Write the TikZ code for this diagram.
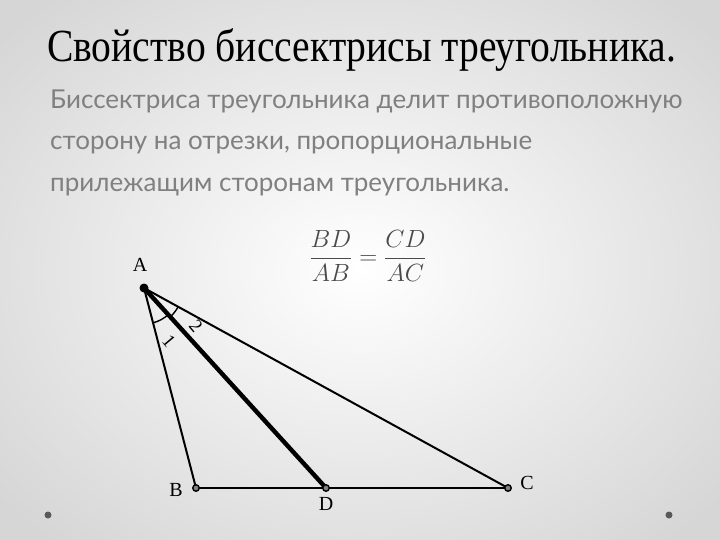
\documentclass[tikz,border=0pt]{standalone}
\usepackage{amsmath}
\usepackage{fontspec}
\setmainfont{Liberation Serif}
\newfontfamily\bodyfont{Lato}
\newfontfamily\titlefont{Liberation Serif}
\usetikzlibrary{calc}
\definecolor{bodygray}{HTML}{808080}
\definecolor{formgray}{HTML}{4A4A4A}
\definecolor{bgedge}{HTML}{D6D6D6}
\tikzset{
  side/.style={line width=2pt, black},
  bisect/.style={line width=4.4pt, black},
  vlabel/.style={font=\fontsize{20}{20}\selectfont, inner sep=0pt},
  anglabel/.style={font=\fontsize{19}{19}\selectfont, inner sep=0pt, rotate=-50},
  vdot/.style={circle, draw=black, fill=gray, line width=1.4pt, minimum size=6.5pt, inner sep=0pt},
  cornerdot/.style={circle, fill=black!65, minimum size=7pt, inner sep=0pt},
  bodyline/.style={anchor=base west, inner sep=0pt, text=bodygray, font=\bodyfont\fontsize{26}{26}\selectfont}
}
\begin{document}
\begin{tikzpicture}[x=1pt,y=-1pt]
\useasboundingbox (0,0) rectangle (720,540);
\shade[inner color=white, outer color=bgedge] (-110,-90) rectangle (830,630);
% title
\node[anchor=base west, inner sep=0pt, xscale=0.86] (title) at (47,62)
  {\titlefont\fontsize{46}{46}\selectfont Свойство биссектрисы треугольника.};
% body text
\node[bodyline] (l1) at (50,109) {Биссектриса треугольника делит противоположную};
\node[bodyline] (l2) at (50,150) {сторону на отрезки, пропорциональные};
\node[bodyline] (l3) at (50,192) {прилежащим сторонам треугольника.};
% formula
\node[text=formgray, inner sep=0pt, font=\fontsize{24}{24}\selectfont] (form) at (368,256)
  {$\dfrac{BD}{AB}=\dfrac{CD}{AC}$};
% triangle
\coordinate (A) at (144,288);
\coordinate (B) at (196,488);
\coordinate (D) at (326,488);
\coordinate (C) at (508,488);
\draw[side] (A) -- (B);
\draw[side] (A) -- (C);
\draw[line width=2.6pt] (B) -- (C);
\draw[bisect] (A) -- (D);
% angle arcs
\draw[line width=1.4pt] ($(A)+(75.4:36)$) arc[start angle=75.4, end angle=47.2, radius=36];
\draw[line width=1.4pt] ($(A)+(47.2:39)$) arc[start angle=47.2, end angle=28.6, radius=39];
% vertex dots
\node[circle, fill=black, minimum size=9pt, inner sep=0pt] (Ad) at (A) {};
\node[vdot] (Bd) at (B) {};
\node[vdot] (Dd) at (D) {};
\node[vdot] (Cd) at (C) {};
% labels
\node[vlabel] (LA) at (140,265) {A};
\node[vlabel] (LB) at (176,490) {B};
\node[vlabel] (LD) at (326,504) {D};
\node[vlabel] (LC) at (527,483) {C};
\node[anglabel] (L1) at (169,341) {1};
\node[anglabel] (L2) at (196,326) {2};
% corner dots
\node[cornerdot] (cd1) at (48,515) {};
\node[cornerdot] (cd2) at (669,515) {};
\end{tikzpicture}
\end{document}
